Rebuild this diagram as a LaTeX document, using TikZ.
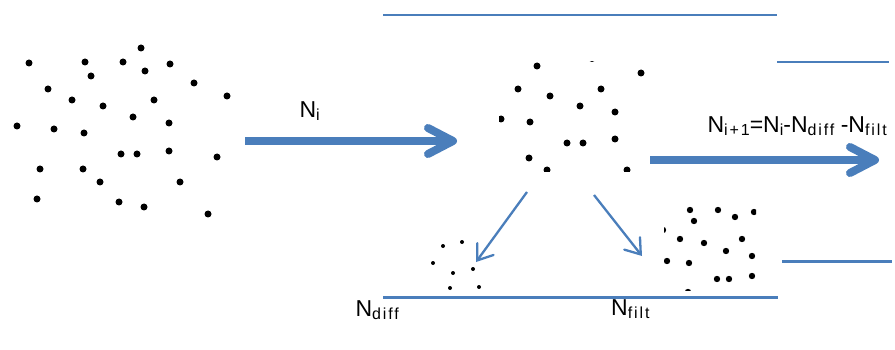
\documentclass[tikz,border=0pt]{standalone}
\usepackage{fontspec}
\setmainfont{Liberation Sans}
\usetikzlibrary{arrows.meta,calc}
\definecolor{lineblue}{HTML}{4A7EBB}
\newcommand{\subtxt}[1]{\raisebox{-3pt}{\fontsize{16}{16}\selectfont\addfontfeatures{LetterSpace=12}#1}}
\tikzset{
  blueline/.style={draw=lineblue, line width=2.2pt},
  bigshaft/.style={draw=lineblue, line width=8pt},
  bighead/.pic={\draw[lineblue, line width=8pt, line cap=round, line join=round] (-25,-13) -- (0,0) -- (-25,13);},
  thinarrow/.style={draw=lineblue, line width=2.3pt, -{Straight Barb[length=14pt,width=20pt,line cap=round]}},
  lbl/.style={anchor=base west, inner sep=0pt, font=\fontsize{23}{23}\selectfont},
}
\begin{document}
\begin{tikzpicture}[x=1pt,y=-1pt]
\useasboundingbox (0,0) rectangle (895,350);
\fill[white] (0,0) rectangle (895,350);

% horizontal lines
\draw[blueline] (383,15) -- (777,15);
\draw[blueline] (777,62) -- (889,62);
\draw[blueline] (782,261.5) -- (892,261.5);
\draw[blueline] (383,297.5) -- (778,297.5);

% left cluster
\foreach \x/\y in {29/63,85/62,123/62,141/48,145/71,170/64,91/76,48/89,194/83,227/96,
  72/100,103/106,154/100,133/117,17/126,54/129,84/133,169/123,121/154,137/154,169/151,
  217/157,40/169,83/169,100/182,180/182,37/199,119/202,144/207,208/214}
  \fill (\x,\y) circle (3.5pt);

% middle cluster (cropped)
\begin{scope}
\clip (499,62) rectangle (650,172);
\foreach \x/\y in {537/66,592/58.5,641/73,518/89,550/96,601/89,580/106,615/112,501/119,
  530/122,567/143,583/143,615/139,529/158,547/170,627/170}
  \fill (\x,\y) circle (3.5pt);
\end{scope}

% bottom-left small cluster
\foreach \x/\y in {443/246,462/242,433/263,453/273,473/269,450/288,479/287}
  \fill (\x,\y) circle (2pt);

% bottom-right cluster (cropped)
\begin{scope}
\clip (664,204) rectangle (756,290);
\foreach \x/\y in {690/210,718/210,735/217,754/212,694/221,663/230,680/239,704/243,742/239,
  726/251,752/256,667/261,689/263,717/279,729/279,752/276,688/292}
  \fill (\x,\y) circle (3.2pt);
\end{scope}

% arrows
\coordinate (a1s) at (245,141);
\coordinate (a1e) at (453,141);
\draw[bigshaft] (a1s) -- (a1e);
\pic at (a1e) {bighead};

\coordinate (a2s) at (650,160);
\coordinate (a2e) at (875,160);
\draw[bigshaft] (a2s) -- (a2e);
\pic at (a2e) {bighead};

\coordinate (t1s) at (527,192);
\coordinate (t1e) at (476,262);
\draw[thinarrow] (t1s) -- (t1e);
\coordinate (t2s) at (594,195);
\coordinate (t2e) at (642,256);
\draw[thinarrow] (t2s) -- (t2e);

% labels
\node[lbl] (ni) at (299.3,118) {N\subtxt{i}};
\node[lbl] (form) at (707.3,132.7) {N\subtxt{i+1}=N\subtxt{i}-N\subtxt{diff} -N\subtxt{filt}};
\node[lbl] (ndiff) at (355.3,316) {N\subtxt{diff}};
\node[lbl] (nfilt) at (611,315) {N\subtxt{filt}};
\end{tikzpicture}
\end{document}
